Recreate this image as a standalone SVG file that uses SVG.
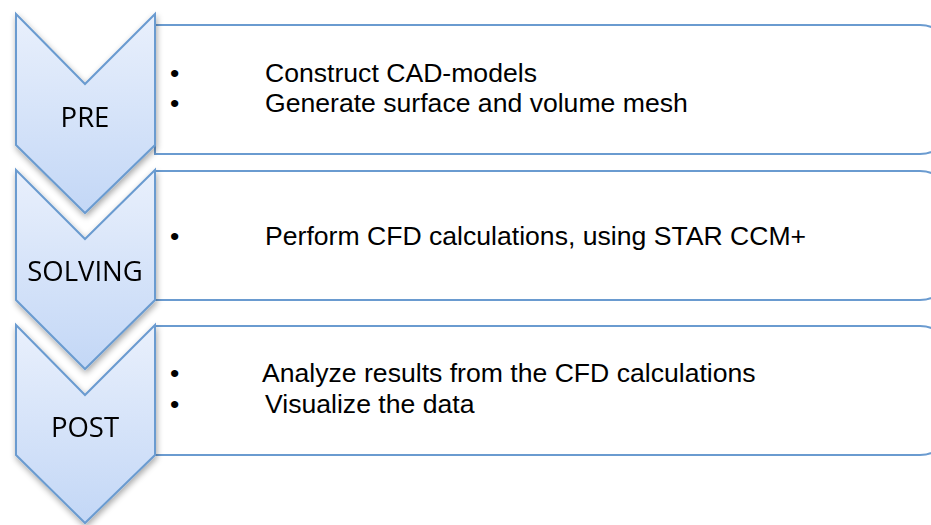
<svg xmlns="http://www.w3.org/2000/svg" width="931" height="525" viewBox="0 0 931 525">
  <defs>
    <linearGradient id="chevFill" x1="0" y1="0" x2="0" y2="1">
      <stop offset="0" stop-color="#e9f0fc"/>
      <stop offset="1" stop-color="#c3d7f6"/>
    </linearGradient>
    <filter id="shadow" x="-20%" y="-20%" width="140%" height="140%">
      <feGaussianBlur in="SourceAlpha" stdDeviation="3"/>
      <feOffset dx="1" dy="3" result="b"/>
      <feComponentTransfer><feFuncA type="linear" slope="0.35"/></feComponentTransfer>
      <feMerge><feMergeNode/><feMergeNode in="SourceGraphic"/></feMerge>
    </filter>
  </defs>
  <style>
    .box { fill: #ffffff; stroke: #6a9bd0; stroke-width: 2; }
    .chev { fill: url(#chevFill); stroke: #6a9bd0; stroke-width: 2; stroke-linejoin: miter; }
    .label { font-family: "Open Sans", "Noto Sans", sans-serif; font-size: 27.5px; fill: #000; text-anchor: middle; }
    .item { font-family: "Liberation Sans", Arial, sans-serif; font-size: 26.6px; fill: #000; }
  </style>

  <rect width="931" height="525" fill="#ffffff"/>

  <!-- content boxes: square on the left, rounded on the right (right edge runs past the canvas) -->
  <g id="box-pre">
    <path class="box" d="M155,25 H920 Q942,25 942,47 V132 Q942,154 920,154 H155 Z"/>
    <text class="item" x="170" y="82">•</text>
    <text class="item" x="265" y="82">Construct CAD-models</text>
    <text class="item" x="170" y="112">•</text>
    <text class="item" x="265" y="112">Generate surface and volume mesh</text>
  </g>
  <g id="box-solving">
    <path class="box" d="M155,171 H920 Q942,171 942,193 V278 Q942,300 920,300 H155 Z"/>
    <text class="item" x="170" y="245">•</text>
    <text class="item" x="265" y="245">Perform CFD calculations, using STAR CCM+</text>
  </g>
  <g id="box-post">
    <path class="box" d="M155,326 H920 Q942,326 942,348 V433 Q942,455 920,455 H155 Z"/>
    <text class="item" x="170" y="382">•</text>
    <text class="item" x="262" y="382">Analyze results from the CFD calculations</text>
    <text class="item" x="170" y="413">•</text>
    <text class="item" x="265" y="413">Visualize the data</text>
  </g>

  <!-- stage chevrons -->
  <g id="stage-pre" filter="url(#shadow)">
    <path class="chev" d="M16,14 L85,84 L155,14 V145 L85,213 L16,145 Z"/>
    <text class="label" x="85" y="127">PRE</text>
  </g>
  <g id="stage-solving" filter="url(#shadow)">
    <path class="chev" d="M16,170 L85,239 L155,170 V300 L85,369 L16,300 Z"/>
    <text class="label" x="85" y="281">SOLVING</text>
  </g>
  <g id="stage-post" filter="url(#shadow)">
    <path class="chev" d="M16,325 L85,395 L155,325 V455 L85,523 L16,455 Z"/>
    <text class="label" x="85" y="437">POST</text>
  </g>
</svg>
